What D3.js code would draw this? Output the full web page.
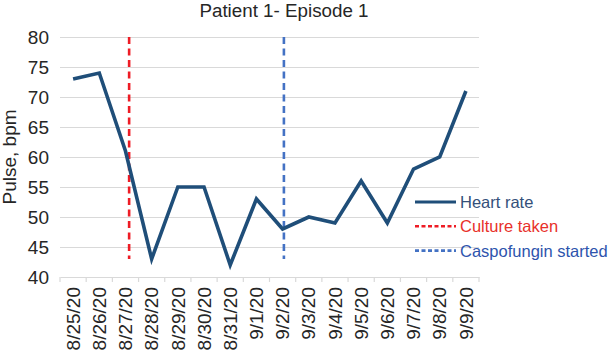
<!DOCTYPE html>
<html>
<head>
<meta charset="utf-8">
<script src="https://cdn.jsdelivr.net/npm/d3@7"></script>
<style>
  body { margin: 0; background: #fff; }
  text { font-family: "Liberation Sans", Arial, Helvetica, sans-serif; }
</style>
</head>
<body>
<svg id="chart"></svg>
<script>
  'use strict';

  var dates = ['8/25/20', '8/26/20', '8/27/20', '8/28/20', '8/29/20', '8/30/20',
    '8/31/20', '9/1/20', '9/2/20', '9/3/20', '9/4/20', '9/5/20', '9/6/20',
    '9/7/20', '9/8/20', '9/9/20'];
  var heartRate = [73, 74, 61, 43, 55, 55, 42, 53, 48, 50, 49, 56, 49, 58, 60, 71];
  var yTicks = [40, 45, 50, 55, 60, 65, 70, 75, 80];

  /* event markers: position as date index (drawn a bit right of the day), span in bpm */
  var eventNames = ['Culture taken', 'Caspofungin started'];
  var eventIndex = [2.14, 8.05];
  var eventSpan = [43, 80];

  var width = 613;
  var height = 354;
  var padding = { top: 37, right: 134, bottom: 77, left: 60 };

  var colors = {
    heart: '#1f4e79',
    culture: '#ee1c25',
    caspo: '#4472c4'
  };

  var svg = d3.select('#chart')
    .attr('width', width)
    .attr('height', height);

  /* scales */
  var x = d3.scaleBand()
    .domain(dates)
    .range([padding.left, width - padding.right]);
  var xIdx = d3.scaleLinear()
    .domain([-0.5, dates.length - 0.5])
    .range([padding.left, width - padding.right]);
  var y = d3.scaleLinear()
    .domain([40, 80])
    .range([height - padding.bottom, padding.top]);

  /* grid */
  svg.append('g')
    .attr('class', 'ruler y')
    .attr('transform', 'translate(' + padding.left + ',0)')
    .call(d3.axisRight(y).tickValues(yTicks.slice(1))
      .tickSize(width - padding.right - padding.left).tickFormat(''))
    .call(function(g) {
      g.select('.domain').remove();
      g.selectAll('line').attr('stroke', '#d9d9d9').attr('stroke-width', 1.2);
    });

  /* x axis */
  var gX = svg.append('g')
    .attr('class', 'x axis')
    .attr('transform', 'translate(0,' + y(40) + ')')
    .call(d3.axisBottom(x).tickSize(0).tickSizeOuter(0));
  gX.select('.domain').attr('stroke', '#d9d9d9').attr('stroke-width', 1.2);
  gX.selectAll('text')
    .attr('font-size', '19px')
    .attr('fill', '#262626')
    .attr('text-anchor', 'end')
    .attr('transform', 'rotate(-90)')
    .attr('x', -10)
    .attr('y', 0)
    .attr('dy', '0.35em');

  /* band boundary tick marks */
  svg.append('g')
    .selectAll('line')
    .data(d3.range(dates.length + 1))
    .enter().append('line')
      .attr('x1', function(d) { return xIdx(d - 0.5); })
      .attr('x2', function(d) { return xIdx(d - 0.5); })
      .attr('y1', y(40))
      .attr('y2', y(40) + 5)
      .attr('stroke', '#d9d9d9')
      .attr('stroke-width', 1.2);

  /* y axis labels */
  var gY = svg.append('g')
    .attr('class', 'y axis')
    .attr('transform', 'translate(' + padding.left + ',0)')
    .call(d3.axisLeft(y).tickValues(yTicks).tickSize(0).tickPadding(11));
  gY.select('.domain').remove();
  gY.selectAll('text')
    .attr('font-size', '19px')
    .attr('fill', '#262626');

  /* axis title */
  svg.append('text')
    .attr('transform', 'translate(16,' + (y(60)) + ') rotate(-90)')
    .attr('text-anchor', 'middle')
    .attr('font-size', '19px')
    .attr('fill', '#262626')
    .text('Pulse, bpm');

  /* chart title */
  svg.append('text')
    .attr('x', 284)
    .attr('y', 17)
    .attr('text-anchor', 'middle')
    .attr('font-size', '18.8px')
    .attr('fill', '#262626')
    .text('Patient 1- Episode 1');

  /* event lines */
  var eventColors = [colors.culture, colors.caspo];
  svg.append('g')
    .selectAll('line')
    .data(eventIndex)
    .enter().append('line')
      .attr('x1', function(d) { return xIdx(d); })
      .attr('x2', function(d) { return xIdx(d); })
      .attr('y1', y(eventSpan[1]))
      .attr('y2', y(eventSpan[0]))
      .attr('stroke', function(d, i) { return eventColors[i]; })
      .attr('stroke-width', 2.6)
      .attr('stroke-dasharray', '7,4.5');

  /* heart rate line */
  var line = d3.line()
    .x(function(d, i) { return x(dates[i]) + x.bandwidth() / 2; })
    .y(function(d) { return y(d); });

  svg.append('path')
    .datum(heartRate)
    .attr('d', line)
    .attr('fill', 'none')
    .attr('stroke', colors.heart)
    .attr('stroke-width', 3.6)
    .attr('stroke-linejoin', 'miter');

  /* legend */
  var legendItems = [
    { name: 'Heart rate', color: colors.heart, textColor: '#34507a', dash: null, w: 3 },
    { name: eventNames[0], color: colors.culture, textColor: '#e8302a', dash: '4,2.5', w: 2.6 },
    { name: eventNames[1], color: colors.caspo, textColor: '#2e54ad', dash: '4,2.5', w: 2.6 }
  ];
  var legend = svg.append('g')
    .attr('transform', 'translate(415,202)');
  var item = legend.selectAll('g')
    .data(legendItems)
    .enter().append('g')
      .attr('transform', function(d, i) { return 'translate(0,' + (i * 24.3) + ')'; });
  item.append('line')
    .attr('x1', 0)
    .attr('x2', 41)
    .attr('stroke', function(d) { return d.color; })
    .attr('stroke-width', function(d) { return d.w; })
    .attr('stroke-dasharray', function(d) { return d.dash; });
  item.append('text')
    .attr('x', 45)
    .attr('dy', '0.36em')
    .attr('font-size', '16.5px')
    .attr('fill', function(d) { return d.textColor; })
    .text(function(d) { return d.name; });
</script>
</body>
</html>
